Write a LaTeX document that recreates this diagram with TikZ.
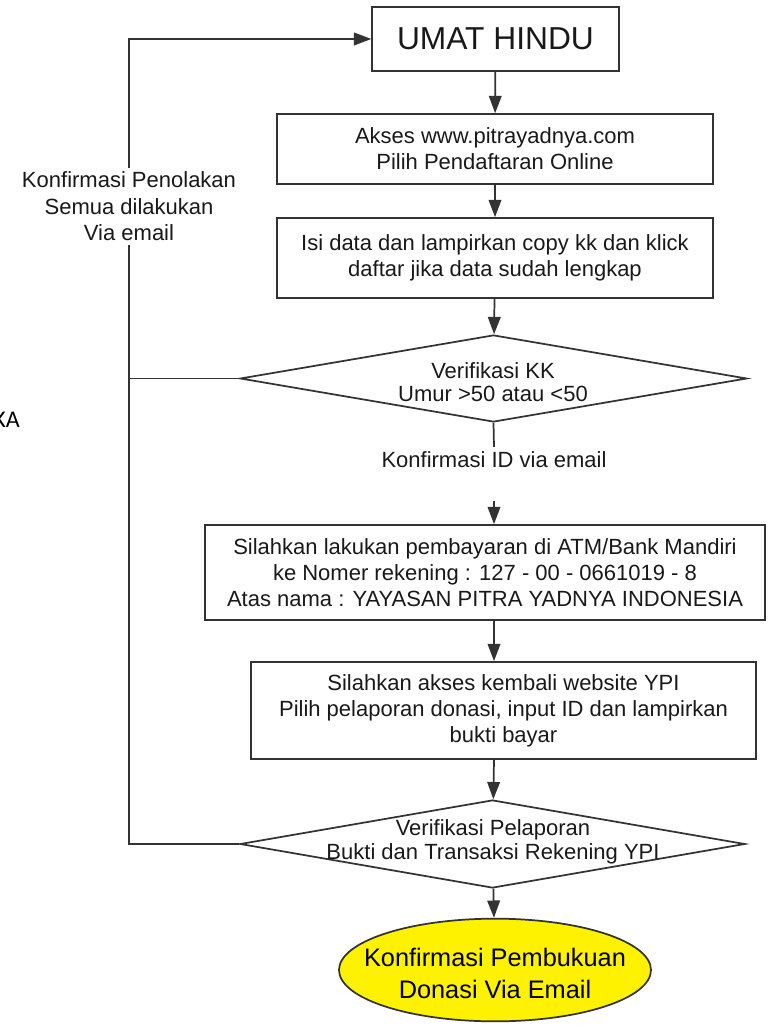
\documentclass[tikz,border=0pt]{standalone}
\usepackage{fontspec}
\setmainfont{Liberation Sans}
\newfontfamily\kafont{Carlito}
\usetikzlibrary{shapes.geometric,arrows.meta}

\tikzset{
	box/.style={draw=black!80, line width=1.3pt, align=center, inner sep=0pt, text=black!90, font=\fontsize{16.5}{19.5}\selectfont},
	decision/.style={diamond, draw=black!80, line width=1.3pt, inner sep=0pt},
	txt/.style={align=center, inner sep=0pt, text=black!90, font=\fontsize{16.5}{19.5}\selectfont},
	line/.style={draw=black!80, line width=1.3pt},
	flow/.style={line, -{Triangle[length=13pt,width=9.5pt]}},
}

\begin{document}
\begin{tikzpicture}[x=0.75pt,y=-0.75pt]
	\useasboundingbox (0,0) rectangle (770,1030);

	\node[box, minimum width=185pt, minimum height=48pt, font=\fontsize{23.8}{28}\selectfont] (umat)  at (495.5,39)  {UMAT HINDU};
	\node[box, minimum width=327pt, minimum height=52.5pt]  (akses) at (495,149)   {Akses www.pitrayadnya.com\\Pilih Pendaftaran Online};
	\node[box, minimum width=327pt, minimum height=60pt]    (isi)   at (495,258)   {Isi data dan lampirkan copy kk dan klick\\daftar jika data sudah lengkap};
	\node[decision, minimum width=380pt, minimum height=65.25pt] (vkk) at (493.5,378.5) {};
	\node[txt, font=\fontsize{16.5}{16.8}\selectfont]       (vkktxt) at (493,382)  {Verifikasi KK\\Umur >50 atau <50};
	\node[txt, anchor=base, inner ysep=3pt, text depth=22pt] (idmail) at (494,467) {Konfirmasi ID via email};
	\node[box, minimum width=420pt, minimum height=71.25pt] (bayar) at (485,572.5) {Silahkan lakukan pembayaran di ATM/Bank Mandiri\\ke Nomer rekening : 127 - 00 - 0661019 - 8\\Atas nama : YAYASAN PITRA YADNYA INDONESIA};
	\node[box, minimum width=378.75pt, minimum height=72.75pt] (lapor) at (503.5,710.5) {Silahkan akses kembali website YPI\\Pilih pelaporan donasi, input ID dan lampirkan\\bukti bayar};
	\node[decision, minimum width=378.75pt, minimum height=66pt] (vpl) at (492.5,844) {};
	\node[txt, font=\fontsize{16.5}{18}\selectfont]         (vpltxt) at (493,842)  {Verifikasi Pelaporan\\Bukti dan Transaksi Rekening YPI};
	\node[ellipse, draw=black!80, line width=1.3pt, fill=yellow, inner sep=0pt, minimum width=234pt, minimum height=77pt] (donasi) at (495,970) {};
	\node[txt, text=black, font=\fontsize{19}{24}\selectfont] (donasitxt) at (495,973) {Konfirmasi Pembukuan\\Donasi Via Email};
	\node[font=\kafont\fontsize{18}{20}\selectfont, anchor=east, inner sep=0pt] (ka) at (20,420) {KA};
	\coordinate (rej) at (129,844);

	\draw[flow] (umat) -- (akses);
	\draw[flow] (akses) -- (isi);
	\draw[flow] (isi) -- (vkk);
	\draw[line] (vkk.south) -- (idmail.north);
	\draw[flow] (idmail.south) -- (idmail.south |- bayar.north);
	\draw[flow] (bayar.south -| idmail) -- (idmail |- lapor.north);
	\draw[flow] (idmail |- lapor.south) -- (vpl);
	\draw[flow] (vpl) -- (donasi);
	\draw[line] (vkk.west) -- (vkk.west -| rej);
	\draw[flow] (vpl.west) -- (rej) |- node[pos=0.396, txt, fill=white, inner sep=3pt, font=\fontsize{16.5}{20}\selectfont] (tolak) {Konfirmasi Penolakan\\Semua dilakukan\\Via email} (umat.west);
\end{tikzpicture}
\end{document}
